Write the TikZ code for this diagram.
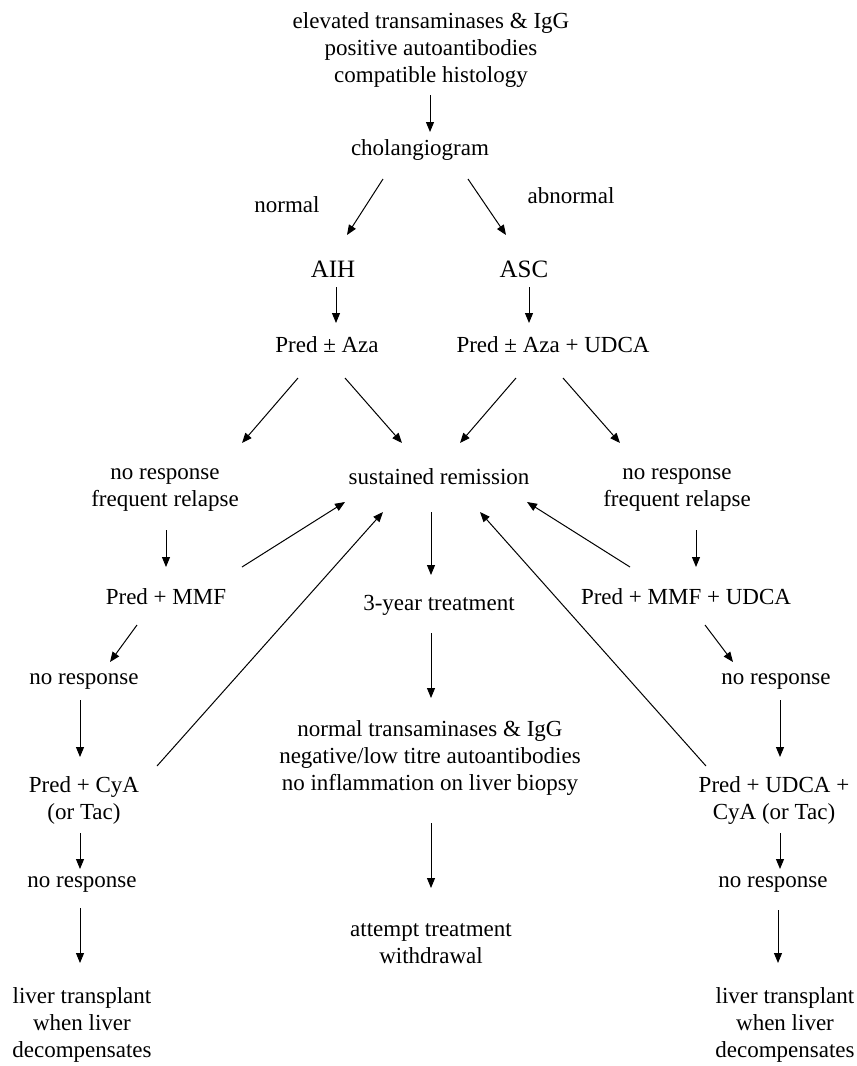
\documentclass[tikz,border=0pt]{standalone}
\usepackage{fontspec}
\setmainfont{Liberation Serif}
\usetikzlibrary{arrows.meta}

\begin{document}
\begin{tikzpicture}[x=1pt, y=-1pt,
    every node/.style={font=\fontsize{23}{27}\selectfont, align=center, inner sep=0pt},
    big/.style={font=\fontsize{25}{30}\selectfont},
    arr/.style={-{Triangle[length=10pt,width=8pt]}, line width=1pt}]
  \useasboundingbox (0,0) rectangle (857,1066);
  % diagnosis and cholangiogram
  \node (diag) at (431,50) {elevated transaminases \& IgG\\positive autoantibodies\\compatible histology};
  \node (chol) at (420,150) {cholangiogram};
  \node (lnorm) at (287,205) {normal};
  \node (labn) at (571,196) {abnormal};
  \node[big] (aih) at (333,269) {AIH};
  \node[big] (asc) at (524,269) {ASC};
  \node (predaza) at (327,345) {Pred ± Aza};
  \node (predazau) at (553,345) {Pred ± Aza + UDCA};
  % response to first line
  \node (nrl) at (165,490) {no response\\frequent relapse};
  \node (remis) at (439,477) {sustained remission};
  \node (nrr) at (677,490) {no response\\frequent relapse};
  \node (mmf) at (166,597) {Pred + MMF};
  \node (three) at (439,605) {3-year treatment};
  \node (mmfu) at (686,597) {Pred + MMF + UDCA};
  % left column
  \node (nra) at (84,682) {no response};
  \node (cya) at (84,800) {Pred + CyA\\(or Tac)};
  \node (nrc) at (82,885) {no response};
  \node (ltl) at (82,1025) {liver transplant\\when liver\\decompensates};
  % middle column
  \node (block) at (430,758) {normal transaminases \& IgG\\negative/low titre autoantibodies\\no inflammation on liver biopsy};
  \node (attempt) at (431,944) {attempt treatment\\withdrawal};
  % right column
  \node (nrb) at (776,682) {no response};
  \node (cyau) at (774,800) {Pred + UDCA +\\CyA (or Tac)};
  \node (nrd) at (773,885) {no response};
  \node (ltr) at (785,1025) {liver transplant\\when liver\\decompensates};

  % arrows
  \draw[arr] ([shift={(-1,45)}]diag.center) -- ([shift={(10,-18)}]chol.center);
  \draw[arr] ([shift={(-37,29)}]chol.center) -- ([shift={(14,-34)}]aih.center);
  \draw[arr] ([shift={(48,29)}]chol.center) -- ([shift={(-18,-34)}]asc.center);
  \draw[arr] ([shift={(3,18)}]aih.center) -- ([shift={(9,-22)}]predaza.center);
  \draw[arr] ([shift={(5,18)}]asc.center) -- ([shift={(-24,-22)}]predazau.center);
  \draw[arr] ([shift={(-29,33)}]predaza.center) -- ([shift={(77,-47)}]nrl.center);
  \draw[arr] ([shift={(18,33)}]predaza.center) -- ([shift={(-37,-34)}]remis.center);
  \draw[arr] ([shift={(-37,33)}]predazau.center) -- ([shift={(21,-34)}]remis.center);
  \draw[arr] ([shift={(10,33)}]predazau.center) -- ([shift={(-57,-47)}]nrr.center);
  \draw[arr] ([shift={(1,40)}]nrl.center) -- ([shift={(0,-30)}]mmf.center);
  \draw[arr] ([shift={(19,40)}]nrr.center) -- ([shift={(10,-30)}]mmfu.center);
  % back to remission
  \draw[arr] ([shift={(76,-30)}]mmf.center) -- ([shift={(-94,25)}]remis.center);
  \draw[arr] ([shift={(73,-34)}]cya.center) -- ([shift={(-56,35)}]remis.center);
  \draw[arr] ([shift={(-56,-30)}]mmfu.center) -- ([shift={(88,25)}]remis.center);
  \draw[arr] ([shift={(-68,-34)}]cyau.center) -- ([shift={(41,35)}]remis.center);
  % middle
  \draw[arr] ([shift={(-8,35)}]remis.center) -- ([shift={(-8,-30)}]three.center);
  \draw[arr] ([shift={(-8,28)}]three.center) -- ([shift={(1,-60)}]block.center);
  \draw[arr] ([shift={(1,65)}]block.center) -- ([shift={(0,-56)}]attempt.center);
  % left
  \draw[arr] ([shift={(-29,28)}]mmf.center) -- ([shift={(26,-20)}]nra.center);
  \draw[arr] ([shift={(-4,18)}]nra.center) -- ([shift={(-4,-43)}]cya.center);
  \draw[arr] ([shift={(-4,33)}]cya.center) -- ([shift={(-2,-16)}]nrc.center);
  \draw[arr] ([shift={(-2,23)}]nrc.center) -- ([shift={(-2,-62)}]ltl.center);
  % right
  \draw[arr] ([shift={(19,28)}]mmfu.center) -- ([shift={(-43,-20)}]nrb.center);
  \draw[arr] ([shift={(4,18)}]nrb.center) -- ([shift={(6,-43)}]cyau.center);
  \draw[arr] ([shift={(6,33)}]cyau.center) -- ([shift={(7,-16)}]nrd.center);
  \draw[arr] ([shift={(5,25)}]nrd.center) -- ([shift={(-7,-62)}]ltr.center);
\end{tikzpicture}
\end{document}
